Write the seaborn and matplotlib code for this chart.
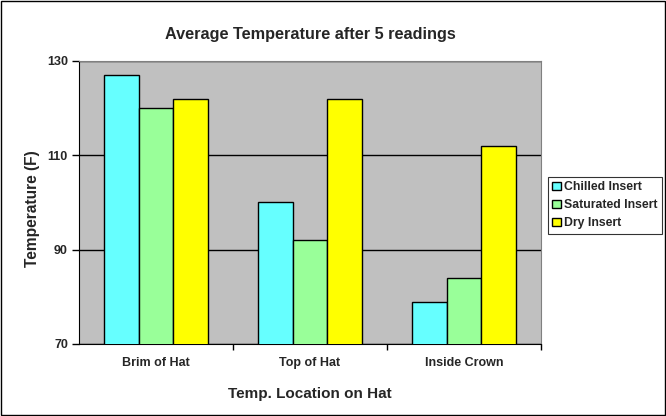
import matplotlib
matplotlib.use("Agg")
import matplotlib.pyplot as plt
import seaborn as sns
import pandas as pd

locations = ["Brim of Hat", "Top of Hat", "Inside Crown"]
inserts = ["Chilled Insert", "Saturated Insert", "Dry Insert"]
chilled = [127, 100, 79]
saturated = [120, 92, 84]
dry = [122, 122, 112]

df = pd.DataFrame({
    "Location": locations * 3,
    "Insert": [inserts[0]] * 3 + [inserts[1]] * 3 + [inserts[2]] * 3,
    "Temp": chilled + saturated + dry,
})

sns.set_style("white")
plt.rcParams["font.family"] = ["Liberation Sans", "DejaVu Sans"]
plt.rcParams["font.weight"] = "bold"

fig = plt.figure(figsize=(6.66, 4.16), dpi=100)
ax = fig.add_axes([0.1186, 0.1731, 0.6937, 0.6803])
ax.set_facecolor("#C0C0C0")

sns.barplot(data=df, x="Location", y="Temp", hue="Insert", order=locations,
            hue_order=inserts, palette=["#66FFFF", "#99FF99", "#FFFF00"],
            width=0.67, gap=0, edgecolor="black", linewidth=1,
            saturation=1, ax=ax, legend=True, zorder=3)

ax.set_ylim(70, 130)
ax.set_yticks([70, 90, 110, 130])
ax.set_xlim(-0.5, 2.5)
ax.yaxis.grid(True, color="black", linewidth=1, zorder=0)
ax.set_axisbelow(True)

for side in ["top", "right"]:
    ax.spines[side].set_color("#808080")
for side in ["left", "bottom"]:
    ax.spines[side].set_color("black")

ax.tick_params(axis="y", direction="out", length=5, width=1, color="black",
               labelsize=9, pad=3, left=True)
ax.tick_params(axis="x", bottom=False, labelsize=9, pad=6)
# category boundary ticks
ax.set_xticks([0.5, 1.5, 2.5], minor=True)
ax.tick_params(axis="x", which="minor", bottom=True, direction="out",
               length=4, width=1, color="black")
for lab in ax.get_xticklabels() + ax.get_yticklabels():
    lab.set_fontweight("bold")

ax.set_xlabel("Temp. Location on Hat", fontsize=11, fontweight="bold", labelpad=13)
ax.set_ylabel("Temperature (F)", fontsize=11.2, fontweight="bold")
ax.yaxis.set_label_coords(-0.084, 0.48)
ax.set_title("Average Temperature after 5 readings", fontsize=11.7,
             fontweight="bold", pad=16)

handles, labels = ax.get_legend_handles_labels()
leg = ax.legend(handles, labels, loc="upper left",
                bbox_to_anchor=(548 / 666, 1 - 177 / 416),
                bbox_transform=fig.transFigure, frameon=True, fancybox=False,
                edgecolor="black", fontsize=8.8, handlelength=0.7,
                handleheight=0.7, handletextpad=0.3, borderpad=0.35,
                labelspacing=0.5, borderaxespad=0)
leg.get_frame().set_linewidth(0.8)
for t in leg.get_texts():
    t.set_fontweight("bold")

fig.patches.append(plt.Rectangle((0.001, 0.002), 0.997, 0.996, fill=False,
                                 edgecolor="black", linewidth=1,
                                 transform=fig.transFigure, figure=fig))

fig.savefig("out.png", dpi=100, facecolor="white")
